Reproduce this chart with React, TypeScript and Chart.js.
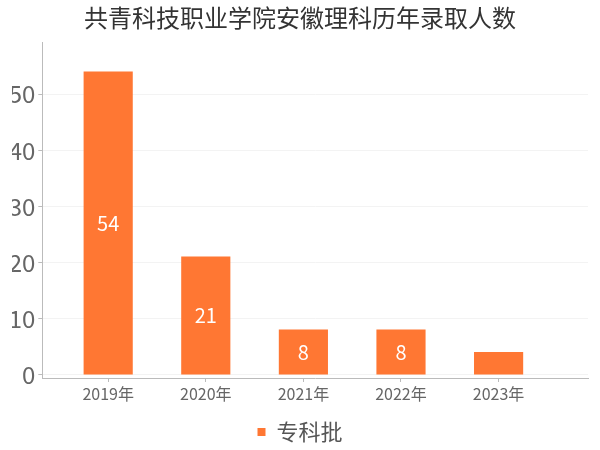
import React, { useEffect, useRef } from "react";
import { Chart, registerables } from "chart.js";

Chart.register(...registerables);

const titleText = "共青科技职业学院安徽理科历年录取人数";
const categories = ["2019年", "2020年", "2021年", "2022年", "2023年"];
const seriesName = "专科批";
const values = [54, 21, 8, 8, 4];
const yTicks = [0, 10, 20, 30, 40, 50];

const CJK = "'Noto Sans CJK SC', sans-serif";

const barLabels = {
  id: "barLabels",
  afterDatasetsDraw(chart: any) {
    const ctx = chart.ctx;
    const meta = chart.getDatasetMeta(0);
    ctx.save();
    ctx.fillStyle = "#ffffff";
    ctx.font = "20px " + CJK;
    ctx.textAlign = "center";
    ctx.textBaseline = "middle";
    meta.data.forEach((bar: any, i: number) => {
      const h = Math.abs(bar.base - bar.y);
      if (h < 30) return;
      ctx.fillText(String(values[i]), bar.x, (bar.y + bar.base) / 2);
    });
    ctx.restore();
  },
};

export default function App() {
  const ref = useRef<HTMLCanvasElement | null>(null);
  useEffect(() => {
    if (!ref.current) return;
    const chart = new Chart(ref.current, {
      type: "bar",
      data: {
        datasets: [
          {
            label: seriesName,
            data: values.map((v, i) => ({ x: i, y: v })),
            backgroundColor: "#ff7733",
            barThickness: 48.5,
          },
        ],
      },
      plugins: [barLabels],
      options: {
        animation: false,
        responsive: true,
        maintainAspectRatio: false,
        layout: { padding: { left: 12, right: 12, top: 0, bottom: -3 } },
        plugins: {
          title: {
            display: true,
            text: titleText,
            color: "#333333",
            font: { size: 24, family: CJK, weight: "normal" },
            padding: { top: 3, bottom: 11 },
          },
          legend: {
            display: true,
            position: "bottom",
            labels: {
              boxWidth: 8,
              boxHeight: 8,
              color: "#555555",
              font: { size: 22, family: CJK },
              padding: 0,
            },
          },
          tooltip: { enabled: false },
        },
        scales: {
          x: {
            type: "linear",
            offset: false,
            min: -0.675,
            max: 4.916,
            afterBuildTicks: (scale: any) => {
              scale.ticks = categories.map((_, i) => ({ value: i }));
            },
            afterFit: (scale: any) => {
              scale.height = 43;
            },
            ticks: {
              color: "#666666",
              font: { size: 16, family: CJK },
              padding: 2,
              callback: (v: any) => categories[v as number] ?? "",
              autoSkip: false,
              maxRotation: 0,
            },
            grid: {
              display: true,
              offset: false,
              drawOnChartArea: false,
              tickLength: 4,
              tickColor: "#bbbbbb",
            },
            border: { color: "#bbbbbb" },
          },
          y: {
            min: -0.6,
            max: 59.2,
            afterBuildTicks: (scale: any) => {
              scale.ticks = yTicks.map((v) => ({ value: v }));
            },
            afterFit: (scale: any) => {
              scale.width = 30.3;
            },
            ticks: {
              color: "#666666",
              font: { size: 24, family: CJK },
              padding: 3,
            },
            grid: {
              color: "#f3f3f3",
              tickLength: 4,
              tickColor: "#bbbbbb",
            },
            border: { color: "#bbbbbb" },
          },
        },
      },
    });
    return () => chart.destroy();
  }, []);
  return (
    <div style={{ position: "fixed", left: 0, top: 0, width: 600, height: 450, background: "#fff" }}>
      <canvas ref={ref} />
    </div>
  );
}
